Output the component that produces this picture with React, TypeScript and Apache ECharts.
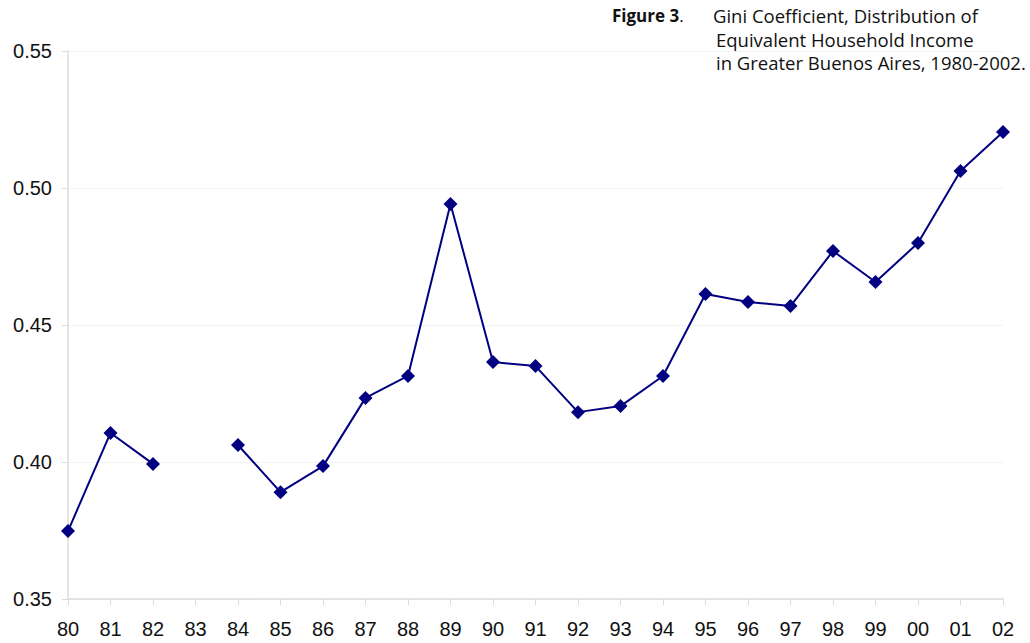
import React, { useEffect, useRef } from "react";
import * as echarts from "echarts";

const years = ["80","81","82","83","84","85","86","87","88","89","90","91","92","93","94","95","96","97","98","99","00","01","02"];
const gini: (number | null)[] = [0.3748,0.4106,0.3993,null,0.4062,0.389,0.3985,0.4234,0.4314,0.4942,0.4365,0.435,0.4182,0.4204,0.4314,0.4613,0.4584,0.4569,0.477,0.4657,0.4799,0.5062,0.5204];
const titleLabel = "Figure 3";
const titleLines = ["Gini Coefficient, Distribution of", "Equivalent Household Income", "in Greater Buenos Aires, 1980-2002."];

export default function App() {
  const ref = useRef<HTMLDivElement>(null);
  useEffect(() => {
    if (!ref.current) return;
    const chart = echarts.init(ref.current, null, { renderer: "svg" });
    const font = "'Open Sans', Lato, sans-serif";
    chart.setOption({
      animation: false,
      backgroundColor: "#fff",
      grid: { left: 68, right: 27, top: 51, bottom: 44 },
      xAxis: {
        type: "category",
        data: years,
        boundaryGap: false,
        axisLine: { lineStyle: { color: "#dcdcdc", width: 1.5 } },
        axisTick: { show: true, length: 6, lineStyle: { color: "#dcdcdc" } },
        axisLabel: { color: "#111", fontSize: 20, fontFamily: "'Liberation Sans', Arial, sans-serif", margin: 20, interval: 0 },
        splitLine: { show: false },
      },
      yAxis: {
        type: "value",
        min: 0.35,
        max: 0.55,
        interval: 0.05,
        axisLine: { show: true, lineStyle: { color: "#dcdcdc", width: 1.5 } },
        axisTick: { show: true, length: 6, lineStyle: { color: "#dcdcdc" } },
        axisLabel: { color: "#111", fontSize: 20, fontFamily: "'Liberation Sans', Arial, sans-serif", margin: 16, formatter: (v: number) => v.toFixed(2) },
        splitLine: { show: true, lineStyle: { color: "#f3f3f3" } },
      },
      series: [
        {
          type: "line",
          data: gini,
          connectNulls: false,
          symbol: "diamond",
          symbolSize: 14,
          lineStyle: { color: "#000080", width: 2 },
          itemStyle: { color: "#000080" },
        },
      ],
      graphic: [
        {
          type: "text", left: 612, top: 7,
          style: {
            text: `{b|${titleLabel}}.`,
            font: `17px ${font}`, fill: "#111",
            rich: { b: { fontWeight: "bold", fontSize: 17, fontFamily: font, fill: "#111" } },
          },
        },
        { type: "text", left: 713, top: 6, style: { text: titleLines[0], font: `18.5px ${font}`, fill: "#111" } },
        { type: "text", left: 716, top: 30, style: { text: titleLines[1], font: `18.5px ${font}`, fill: "#111" } },
        { type: "text", left: 716, top: 53, style: { text: titleLines[2], font: `18.5px ${font}`, fill: "#111" } },
      ],
    });
    return () => chart.dispose();
  }, []);
  return <div ref={ref} style={{ position: "fixed", left: 0, top: 0, width: 1030, height: 643 }} />;
}
